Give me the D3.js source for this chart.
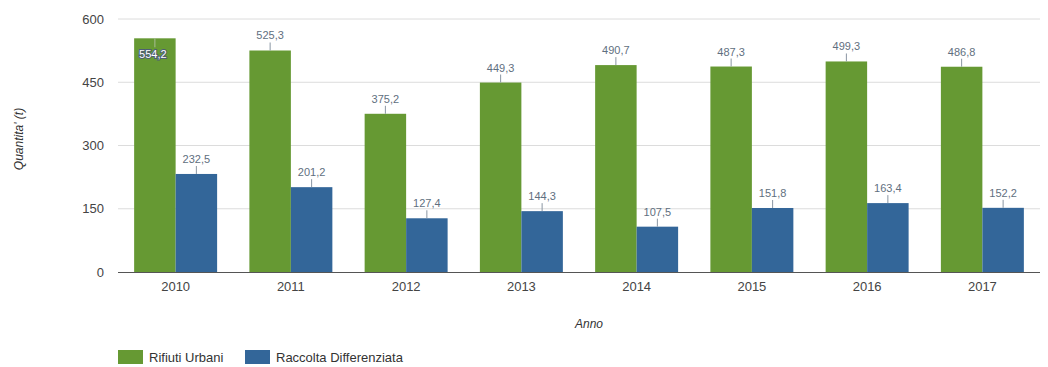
<!DOCTYPE html>
<html><head><meta charset="utf-8">
<script src="https://cdn.jsdelivr.net/npm/d3@7"></script>
<style>body{margin:0;background:#fff;font-family:Arial,"Liberation Sans",sans-serif}</style>
</head><body><svg id="c" width="1048" height="367"></svg>
<script>
const years = ["2010","2011","2012","2013","2014","2015","2016","2017"];
const seriesNames = ["Rifiuti Urbani","Raccolta Differenziata"];
const rifiuti = [554.2,525.3,375.2,449.3,490.7,487.3,499.3,486.8];
const raccolta = [232.5,201.2,127.4,144.3,107.5,151.8,163.4,152.2];
const yTicks = [0,150,300,450,600];
const colors = ["#669933","#336699"];

const svg = d3.select("#c");
const m = {l:118, r:1040, t:19, b:272};
const x = d3.scaleBand().domain(years).range([m.l, m.r]).paddingInner(0.28).paddingOuter(0.14);
const xs = d3.scaleBand().domain([0,1]).range([0, x.bandwidth()]);
const y = d3.scaleLinear().domain([0,600]).range([m.b, m.t]);
const fmt = v => d3.format(".1f")(v).replace(".", ",");

// grid
svg.append("g").selectAll("line").data(yTicks.filter(d=>d>0)).join("line")
  .attr("x1", m.l).attr("x2", m.r).attr("y1", d=>y(d)).attr("y2", d=>y(d))
  .attr("stroke", "#dcdcdc").attr("stroke-width", 1);

// y tick labels
const ya = svg.append("g").attr("transform", `translate(${m.l},0)`)
  .call(d3.axisLeft(y).tickValues(yTicks).tickSize(0).tickPadding(14));
ya.select(".domain").remove();
ya.selectAll("text").attr("font-size", 13).attr("fill", "#444").attr("font-family","Arial,'Liberation Sans',sans-serif");

const series = [rifiuti, raccolta];
series.forEach((vals, si) => {
  const g = svg.append("g");
  g.selectAll("rect").data(years).join("rect")
    .attr("x", (d)=>x(d)+xs(si)).attr("width", xs.bandwidth())
    .attr("y", (d,i)=>y(vals[i])).attr("height", (d,i)=>m.b - y(vals[i]))
    .attr("fill", colors[si]);
  years.forEach((d,i) => {
    const cx = x(d)+xs(si)+xs.bandwidth()/2;
    const top = y(vals[i]);
    const inside = top - 20 < m.t;
    if (inside) {
      g.append("line").attr("x1",cx).attr("x2",cx).attr("y1",top).attr("y2",top+9).attr("stroke","#a9bc96");
      g.append("text").attr("x",cx-2).attr("y",top+20).attr("text-anchor","middle")
        .attr("font-size",11).attr("fill","#fff").attr("stroke","#4d5f73").attr("stroke-width",2)
        .attr("paint-order","stroke").text(fmt(vals[i]));
    } else {
      g.append("line").attr("x1",cx).attr("x2",cx).attr("y1",top).attr("y2",top-8).attr("stroke","#8a96a3");
      g.append("text").attr("x",cx).attr("y",top-11).attr("text-anchor","middle")
        .attr("font-size",11).attr("fill","#5f6f80").text(fmt(vals[i]));
    }
  });
});

// x axis
const xa = svg.append("g").attr("transform", `translate(0,${m.b})`)
  .call(d3.axisBottom(x).tickSize(0).tickPadding(10));
xa.select(".domain").attr("stroke","#555").attr("d", `M${m.l},0.5H${m.r}`);
xa.selectAll("text").attr("font-size", 13).attr("fill", "#444").attr("font-family","Arial,'Liberation Sans',sans-serif");

// titles
svg.append("text").attr("x", 589).attr("y", 328).attr("text-anchor","middle")
  .attr("font-size",12).attr("font-style","italic").attr("fill","#333").text("Anno");
svg.append("text").attr("transform",`translate(23,139) rotate(-90)`).attr("text-anchor","middle")
  .attr("font-size",12).attr("font-style","italic").attr("fill","#333").text("Quantita' (t)");

// legend
const lg = svg.append("g");
const lx = [118, 245];
seriesNames.forEach((n,i) => {
  lg.append("rect").attr("x", lx[i]).attr("y", 350).attr("width", 25).attr("height", 14).attr("fill", colors[i]);
  lg.append("text").attr("x", lx[i]+31).attr("y", 362).attr("font-size",13).attr("fill","#333").text(n);
});
</script></body></html>
